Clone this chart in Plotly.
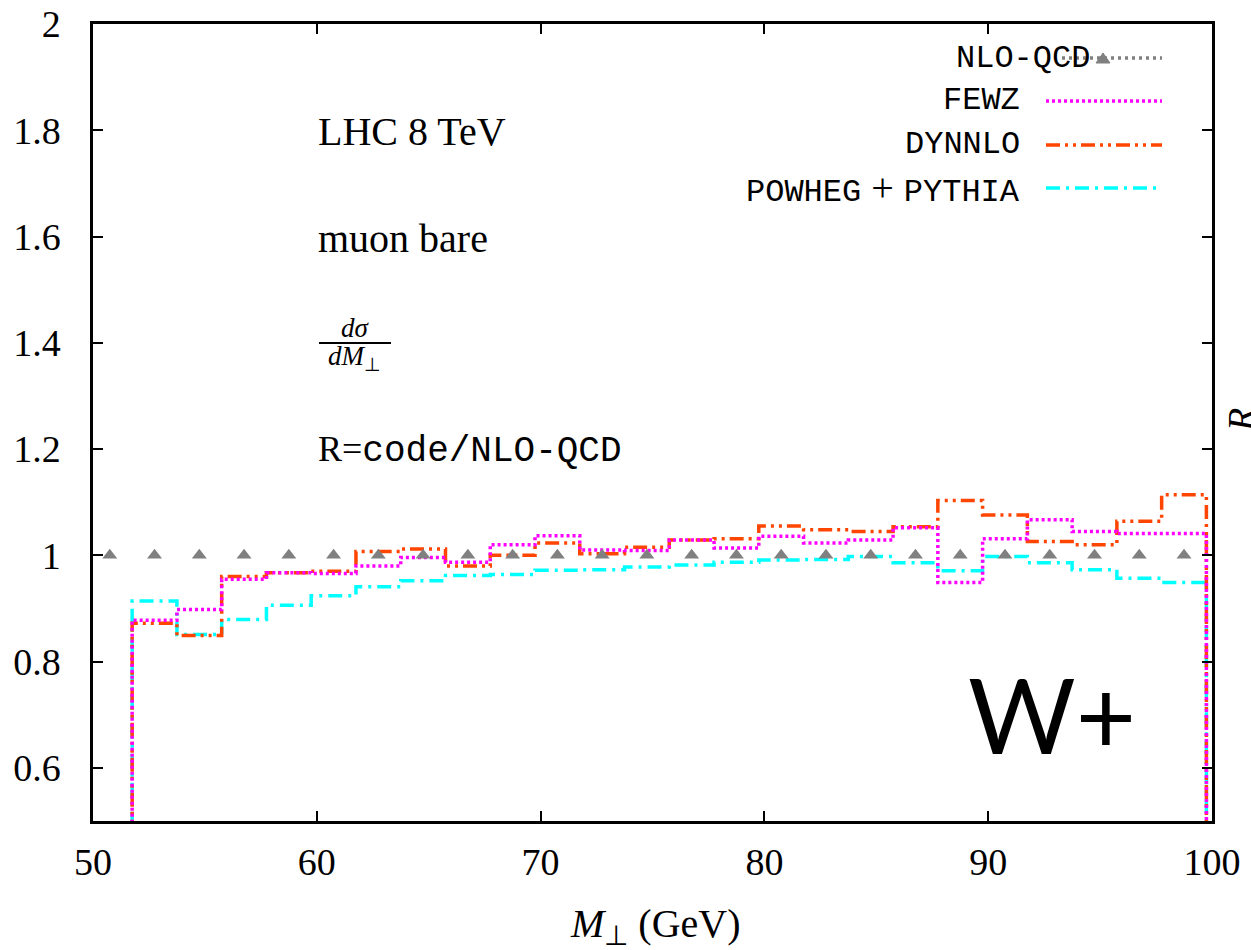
import plotly.graph_objects as go

# ---------------- data ----------------
bin_edges = [51.75, 53.75, 55.75, 57.75, 59.75, 61.75, 63.75, 65.75, 67.75, 69.75,
             71.75, 73.75, 75.75, 77.75, 79.75, 81.75, 83.75, 85.75, 87.75, 89.75,
             91.75, 93.75, 95.75, 97.75, 99.75]

fewz = [0.878, 0.898, 0.955, 0.967, 0.966, 0.980, 0.996, 0.987, 1.020, 1.037,
        1.010, 1.009, 1.029, 1.014, 1.036, 1.023, 1.029, 1.052, 0.949, 1.031,
        1.067, 1.045, 1.041, 1.041]
dynnlo = [0.872, 0.849, 0.960, 0.967, 0.970, 1.007, 1.012, 0.980, 1.000, 1.023,
          1.003, 1.015, 1.029, 1.031, 1.055, 1.048, 1.045, 1.054, 1.103, 1.076,
          1.026, 1.020, 1.064, 1.114]
powheg = [0.914, 0.851, 0.879, 0.906, 0.924, 0.941, 0.952, 0.962, 0.964, 0.972,
          0.973, 0.978, 0.982, 0.987, 0.991, 0.992, 0.998, 0.986, 0.971, 0.998,
          0.986, 0.973, 0.957, 0.949]

nlo_x = [50.75, 52.75, 54.75, 56.75, 58.75, 60.75, 62.75, 64.75, 66.75, 68.75,
         70.75, 72.75, 74.75, 76.75, 78.75, 80.75, 82.75, 84.75, 86.75, 88.75,
         90.75, 92.75, 94.75, 96.75, 98.75]
nlo_y = [1.0] * len(nlo_x)

y_tickvals = [0.6, 0.8, 1.0, 1.2, 1.4, 1.6, 1.8, 2.0]
y_ticktext = ["0.6", "0.8", "1", "1.2", "1.4", "1.6", "1.8", "2"]
x_tickvals = [50, 60, 70, 80, 90, 100]
x_ticktext = ["50", "60", "70", "80", "90", "100"]

# ---------------- styles ----------------
SERIF = "Liberation Serif"
MONO = "Liberation Mono"
C_FEWZ = "#ff00ff"
C_DYN = "#ff4500"
C_POW = "#00ffff"
C_NLO = "#808080"
DASH_FEWZ = "3px,3px"
DASH_DYN = "14px,5px,3px,5px,3px,5px"
DASH_POW = "14px,6px,3px,6px"


def step_xy(values):
    xs = [bin_edges[0]] + bin_edges[:len(values)] + [bin_edges[len(values)]]
    ys = [0.0] + list(values) + [0.0]
    return xs, ys


fig = go.Figure()

for vals, col, dash, name in [(powheg, C_POW, DASH_POW, "POWHEG + PYTHIA"),
                              (dynnlo, C_DYN, DASH_DYN, "DYNNLO"),
                              (fewz, C_FEWZ, DASH_FEWZ, "FEWZ")]:
    xs, ys = step_xy(vals)
    fig.add_trace(go.Scatter(x=xs, y=ys, mode="lines", line_shape="hv",
                             line=dict(color=col, width=3.5, dash=dash),
                             name=name, showlegend=False))

fig.add_trace(go.Scatter(x=nlo_x, y=nlo_y, mode="markers",
                         marker=dict(symbol="triangle-up", size=13, color=C_NLO),
                         name="NLO-QCD", showlegend=False))

# ---------------- layout helpers (paper coordinates) ----------------
L, R, T, B = 93, 1212, 24, 821


def px(xp):
    return (xp - L) / (R - L)


def py(yp):
    return (B - yp) / (B - T)


annotations = []
shapes = []

# legend (gnuplot style: text left, sample right)
leg_rows = [("NLO-QCD", 58, 1092), ("FEWZ", 101, 1022), ("DYNNLO", 145, 1022),
            ("POWHEG + PYTHIA", 188, 1022)]
for txt, yy, xend in leg_rows:
    if txt.startswith("POWHEG"):
        text = ('POWHEG<span style="font-family:%s;font-size:40px"> + </span>PYTHIA'
                % SERIF)
    else:
        text = txt
    annotations.append(dict(x=px(xend), y=py(yy), xref="paper", yref="paper",
                            text=text, showarrow=False, xanchor="right", yanchor="middle",
                            font=dict(family=MONO, size=32, color="black")))

leg_samples = [(58, C_NLO, "3px,4px", 1062), (101, C_FEWZ, DASH_FEWZ, 1046),
               (145, C_DYN, DASH_DYN, 1046), (188, C_POW, DASH_POW, 1046)]
for yy, col, dash, x0 in leg_samples:
    shapes.append(dict(type="line", xref="paper", yref="paper",
                       x0=px(x0), x1=px(1162), y0=py(yy), y1=py(yy),
                       line=dict(color=col, width=3.5, dash=dash)))
# legend marker for NLO-QCD
tri = "M %f,%f L %f,%f L %f,%f Z" % (px(1096), py(63), px(1110), py(63), px(1103), py(53))
shapes.append(dict(type="path", xref="paper", yref="paper", path=tri,
                   fillcolor=C_NLO, line=dict(color=C_NLO, width=1)))

# text labels in plot
annotations.append(dict(x=px(316), y=py(131), xref="paper", yref="paper", text="LHC 8 TeV",
                        showarrow=False, xanchor="left", yanchor="middle",
                        font=dict(family=SERIF, size=40, color="black")))
annotations.append(dict(x=px(316), y=py(238), xref="paper", yref="paper", text="muon bare",
                        showarrow=False, xanchor="left", yanchor="middle",
                        font=dict(family=SERIF, size=40, color="black")))
annotations.append(dict(x=px(355), y=py(328), xref="paper", yref="paper", text="<i>dσ</i>",
                        showarrow=False, xanchor="center", yanchor="middle",
                        font=dict(family=SERIF, size=27, color="black")))
annotations.append(dict(x=px(354), y=py(358), xref="paper", yref="paper",
                        text="<i>dM</i><sub>⊥</sub>",
                        showarrow=False, xanchor="center", yanchor="middle",
                        font=dict(family=SERIF, size=27, color="black")))
shapes.append(dict(type="line", xref="paper", yref="paper", x0=px(319), x1=px(391),
                   y0=py(343), y1=py(343), line=dict(color="black", width=2)))
annotations.append(dict(x=px(316), y=py(450), xref="paper", yref="paper",
                        text='R=<span style="font-family:%s">code/NLO-QCD</span>' % MONO,
                        showarrow=False, xanchor="left", yanchor="middle",
                        font=dict(family=SERIF, size=36, color="black")))
annotations.append(dict(x=px(1052), y=py(713), xref="paper", yref="paper", text="W+",
                        showarrow=False, xanchor="center", yanchor="middle",
                        font=dict(family="Lato", size=104, color="black")))
annotations.append(dict(x=px(1241), y=py(420), xref="paper", yref="paper", text="<i>R</i>",
                        showarrow=False, xanchor="center", yanchor="middle", textangle=-90,
                        font=dict(family=SERIF, size=38, color="black")))
# x-axis title as annotation to keep plot area fixed
annotations.append(dict(x=px(655), y=py(926), xref="paper", yref="paper",
                        text="<i>M</i><sub>⊥</sub> (GeV)", showarrow=False,
                        xanchor="center", yanchor="middle",
                        font=dict(family=SERIF, size=40, color="black")))

axis_common = dict(showline=True, linecolor="black", linewidth=2.5, mirror="ticks",
                   ticks="inside", ticklen=10, tickwidth=2, tickcolor="black",
                   showgrid=False, zeroline=False, automargin=False,
                   tickfont=dict(family=SERIF, size=38, color="black"))

fig.update_layout(
    width=1251, height=950,
    margin=dict(l=L, r=1251 - R, t=T, b=950 - B),
    paper_bgcolor="white", plot_bgcolor="white",
    showlegend=False,
    xaxis=dict(range=[50, 100], tickvals=x_tickvals, ticktext=x_ticktext,
               ticklabelstandoff=6, **axis_common),
    yaxis=dict(range=[0.5, 2.0], tickvals=y_tickvals, ticktext=y_ticktext,
               ticklabelstandoff=22, **axis_common),
    annotations=annotations,
    shapes=shapes,
)

fig.write_html("out.html")
